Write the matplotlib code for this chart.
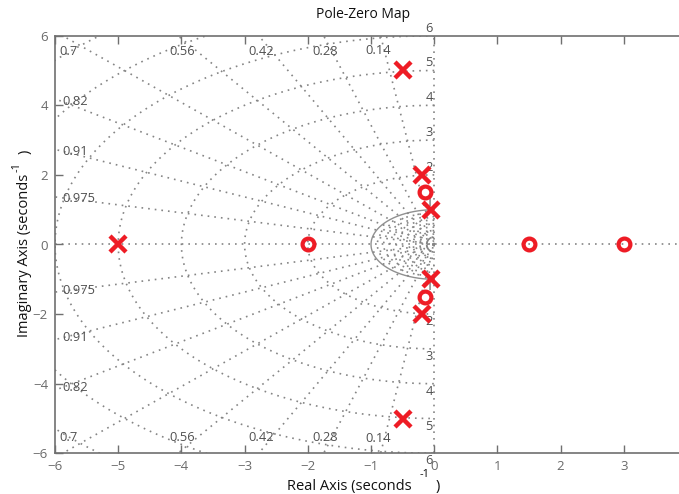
import numpy as np
import matplotlib
matplotlib.use("Agg")
import matplotlib.pyplot as plt

plt.rcParams['font.family'] = ['Open Sans', 'DejaVu Sans']

# ---- data ----
poles_re = [-5.0, -0.5, -0.5, -0.2, -0.2, -0.05, -0.05]
poles_im = [0.0, 5.0, -5.0, 2.0, -2.0, 1.0, -1.0]
zeros_re = [-2.0, 1.5, 3.0, -0.15, -0.15]
zeros_im = [0.0, 0.0, 0.0, 1.5, -1.5]
zeta_vals = [0.14, 0.28, 0.42, 0.56, 0.7, 0.82, 0.91, 0.975]
zeta_labels = ['0.14', '0.28', '0.42', '0.56', '0.7', '0.82', '0.91', '0.975']
wn_inner = [0.1, 0.2, 0.3, 0.4, 0.5, 0.6, 0.7, 0.8, 0.9]
wn_outer = [2, 3, 4, 5, 6, 7, 8]
wn_labels = ['1', '2', '3', '4', '5', '6']
xticks = [-6, -5, -4, -3, -2, -1, 0, 1, 2, 3]
yticks = [-6, -4, -2, 0, 2, 4, 6]

W, H = 679, 494
fig = plt.figure(figsize=(W / 100, H / 100), dpi=100)
L, R, T, B = 55, 687, 35.7, 453.3
ax = fig.add_axes([L / W, (H - B) / H, (R - L) / W, (B - T) / H])
ax.set_xlim(-6, 4)
ax.set_ylim(-6, 6)

gcol = '#858585'
dot = (0, (1, 3))
th = np.linspace(np.pi / 2, 3 * np.pi / 2, 600)
for r in wn_inner + wn_outer:
    ax.plot(r * np.cos(th), r * np.sin(th), color=gcol, lw=1.2, ls=dot, zorder=1)
ax.plot(np.cos(th), np.sin(th), color='#909090', lw=1.0, ls='-', zorder=1)

Rr = 15
for z in zeta_vals:
    s = np.sqrt(1 - z * z)
    ax.plot([0, -z * Rr], [0, s * Rr], color=gcol, lw=1.2, ls=dot, zorder=1)
    ax.plot([0, -z * Rr], [0, -s * Rr], color=gcol, lw=1.2, ls=dot, zorder=1)
ax.axhline(0, color=gcol, lw=1.2, ls=dot, zorder=1)
ax.axvline(0, color=gcol, lw=1.2, ls=dot, zorder=1)

# zeta labels
tcol = '#505050'
top_pos = {'0.7': (-5.78, 5.55), '0.56': (-3.99, 5.55), '0.42': (-2.73, 5.55),
           '0.28': (-1.73, 5.55), '0.14': (-0.89, 5.58),
           '0.82': (-5.68, 4.1), '0.91': (-5.68, 2.67), '0.975': (-5.63, 1.32)}
for lab in zeta_labels:
    x, y = top_pos[lab]
    ax.text(x, y, lab, color=tcol, fontsize=9.3, ha='center', va='center')
    ax.text(x, -y, lab, color=tcol, fontsize=9.3, ha='center', va='center')

# wn labels
for lab in wn_labels:
    v = float(lab)
    ax.text(-0.08, v + 0.22, lab, color=tcol, fontsize=9.3, ha='center', va='center', clip_on=False)
    ax.text(-0.08, -v - 0.22, lab, color=tcol, fontsize=9.3, ha='center', va='center', clip_on=False)

red = '#ee1c25'
ax.plot(poles_re, poles_im, ls='none', marker='x', color=red, ms=11, mew=3.2, zorder=5)
ax.plot(zeros_re, zeros_im, ls='none', marker='o', mfc='none', mec=red, ms=8.5, mew=3.0, zorder=5)

ax.set_xticks(xticks)
ax.set_yticks(yticks)
ax.tick_params(direction='in', top=True, right=True, length=6, width=1,
               color='#707070', labelcolor='#6a6a6a', labelsize=9.5, pad=5)
for sp in ax.spines.values():
    sp.set_color('#707070')
    sp.set_linewidth(1.2)

# title and axis labels
fig.text(363 / W, 1 - 14 / H, 'Pole-Zero Map', fontsize=10, ha='center', va='center', color='#111111')
fig.text(349 / W, 1 - 486 / H, 'Real Axis (seconds', fontsize=10.5, ha='center', va='center', color='#111111')
fig.text(425 / W, 1 - 474 / H, '-1', fontsize=8, ha='center', va='center', color='#111111')
fig.text(438 / W, 1 - 486 / H, ')', fontsize=10.5, ha='center', va='center', color='#111111')
fig.text(25 / W, 1 - 255 / H, 'Imaginary Axis (seconds', fontsize=10.5, ha='center', va='center',
         rotation=90, color='#111111')
fig.text(17 / W, 1 - 167 / H, '-1', fontsize=8, ha='center', va='center', rotation=90, color='#111111')
fig.text(25 / W, 1 - 152 / H, ')', fontsize=10.5, ha='center', va='center', rotation=90, color='#111111')

fig.savefig('out.png', dpi=100)
